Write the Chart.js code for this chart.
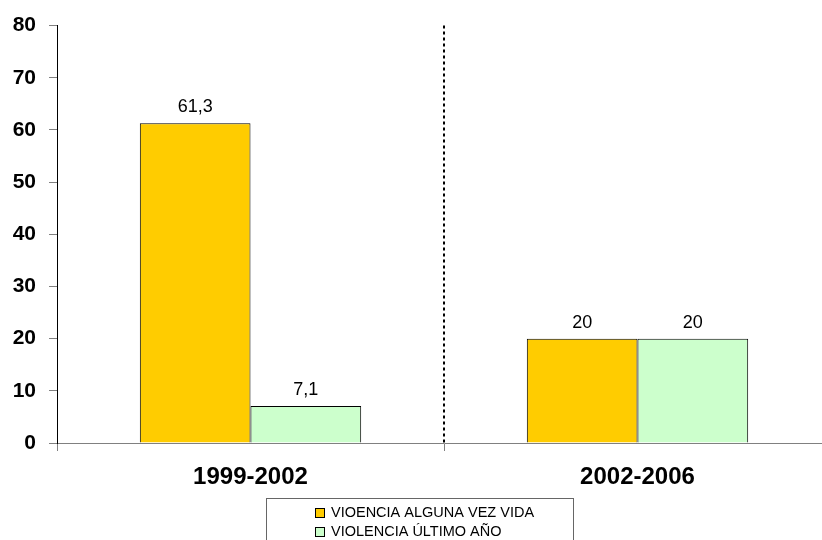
<!DOCTYPE html>
<html>
<head>
<meta charset="utf-8">
<script src="https://cdn.jsdelivr.net/npm/chart.js@4"></script>
<style>
html,body{margin:0;padding:0;background:#fff;overflow:hidden;}
#wrap{width:832px;height:540px;}
</style>
</head>
<body>
<div id="wrap"><canvas id="c" width="832" height="540"></canvas></div>
<script>
const categories = ["1999-2002", "2002-2006"];
const seriesNames = ["VIOENCIA ALGUNA VEZ VIDA", "VIOLENCIA ÚLTIMO AÑO"];
const alguna = [61.3, 20];
const ultimo = [7.1, 20];
const yTicks = [0, 10, 20, 30, 40, 50, 60, 70, 80];
const colors = ["#FFCC00", "#CCFFCC"];

const FONT = "Arial, 'Liberation Sans', sans-serif";

const valueLabels = {
  id: 'valueLabels',
  afterDatasetsDraw(chart) {
    const ctx = chart.ctx;
    ctx.save();
    ctx.font = "18px " + FONT;
    ctx.fillStyle = "#000";
    ctx.textAlign = "center";
    ctx.textBaseline = "middle";
    chart.data.datasets.forEach((ds, di) => {
      chart.getDatasetMeta(di).data.forEach((bar, i) => {
        const txt = String(ds.data[i]).replace('.', ',');
        ctx.fillText(txt, bar.x, bar.y - 16);
      });
    });
    ctx.restore();
  }
};

const divider = {
  id: 'divider',
  afterDraw(chart) {
    const x = chart.scales.x;
    const ca = chart.chartArea;
    const px = (x.getPixelForTick(0) + x.getPixelForTick(1)) / 2;
    const ctx = chart.ctx;
    ctx.save();
    ctx.strokeStyle = "#000";
    ctx.lineWidth = 2;
    ctx.setLineDash([3, 3]);
    ctx.beginPath();
    ctx.moveTo(Math.round(px), ca.top);
    ctx.lineTo(Math.round(px), ca.bottom);
    ctx.stroke();
    ctx.restore();
  }
};

const boxLegend = {
  id: 'boxLegend',
  afterDraw(chart) {
    const ctx = chart.ctx;
    ctx.save();
    ctx.strokeStyle = "#666";
    ctx.lineWidth = 1;
    ctx.strokeRect(266.5, 498.5, 307, 60);
    ctx.font = "14.5px " + FONT;
    ctx.textBaseline = "middle";
    ctx.textAlign = "left";
    chart.data.datasets.forEach((ds, i) => {
      const cy = 513 + i * 19;
      ctx.fillStyle = ds.backgroundColor;
      ctx.fillRect(315, cy - 4.5, 9, 9);
      ctx.strokeStyle = "#000";
      ctx.strokeRect(315.5, cy - 4.5, 9, 9);
      ctx.fillStyle = "#000";
      ctx.fillText(ds.label, 331, cy);
    });
    ctx.restore();
  }
};

new Chart(document.getElementById('c'), {
  type: 'bar',
  data: {
    labels: categories,
    datasets: [
      { label: seriesNames[0], data: alguna, backgroundColor: colors[0], borderColor: "#000", borderWidth: 1, barPercentage: 1, categoryPercentage: 0.572 },
      { label: seriesNames[1], data: ultimo, backgroundColor: colors[1], borderColor: "#000", borderWidth: 1, barPercentage: 1, categoryPercentage: 0.572 }
    ]
  },
  options: {
    responsive: false,
    animation: false,
    layout: { padding: { top: 24, right: 1, left: 0, bottom: 0 } },
    plugins: { legend: { display: false }, tooltip: { enabled: false } },
    scales: {
      x: {
        grid: { display: true, drawOnChartArea: false, drawTicks: true, tickLength: 8, color: "#808080", offset: true },
        border: { display: true, color: "#808080", width: 1 },
        ticks: { color: "#000", font: { family: FONT, size: 24, weight: 'bold' }, padding: 12, maxRotation: 0 },
        afterFit(s) { s.height = 97; }
      },
      y: {
        min: 0, max: 80,
        afterBuildTicks(s) { s.ticks = yTicks.map(v => ({ value: v })); },
        grid: { display: true, drawOnChartArea: false, drawTicks: true, tickLength: 8, color: "#808080" },
        border: { display: true, color: "#000", width: 1 },
        ticks: { color: "#000", font: { family: FONT, size: 21, weight: 'bold' }, padding: 13 },
        afterFit(s) { s.width = 57; }
      }
    }
  },
  plugins: [valueLabels, divider, boxLegend]
});
</script>
</body>
</html>
